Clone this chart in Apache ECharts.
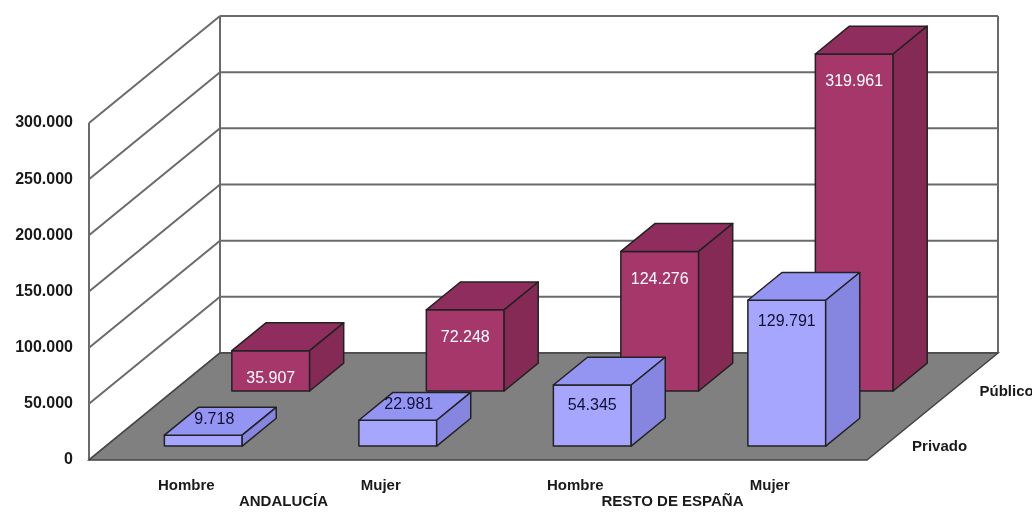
<!DOCTYPE html>
<html>
<head>
<meta charset="utf-8">
<script src="https://cdn.jsdelivr.net/npm/echarts@6/dist/echarts.min.js"></script>
<style>
  html, body { margin: 0; padding: 0; background: #fff; }
  #chart { width: 1032px; height: 512px; }
</style>
</head>
<body>
<div id="chart"></div>
<script>
// data
const categories = ['Hombre', 'Mujer', 'Hombre', 'Mujer'];
const regions = ['ANDALUCÍA', 'RESTO DE ESPAÑA'];
const rowNames = ['Privado', 'Público'];
const privado = [9718, 22981, 54345, 129791];
const publico = [35907, 72248, 124276, 319961];
const yTicks = [0, 50000, 100000, 150000, 200000, 250000, 300000];

const Y_MAX = 300000;
const DEPTH = [131, -107]; // full floor depth, in pixels
const FONT = '"Liberation Sans", Arial, sans-serif';

function fmt(v) {
  return String(v).replace(/\B(?=(\d{3})+(?!\d))/g, '.');
}

function pt(a, b) { return [a, b]; }

// walls, floor and row names
function renderWalls(params, api) {
  const cs = params.coordSys;
  const L = cs.x, R = cs.x + cs.width, B = cs.y + cs.height;
  const Dx = DEPTH[0], Dy = DEPTH[1];
  const yTop = api.coord([0, Y_MAX])[1];
  const lineStyle = { stroke: '#6a6a6a', lineWidth: 2, fill: null };
  const kids = [];
  kids.push({ type: 'polygon', shape: { points: [pt(L + Dx, B + Dy), pt(R + Dx, B + Dy), pt(R + Dx, yTop + Dy), pt(L + Dx, yTop + Dy)] }, style: { fill: '#fff' } });
  kids.push({ type: 'polygon', shape: { points: [pt(L, B), pt(L, yTop), pt(L + Dx, yTop + Dy), pt(L + Dx, B + Dy)] }, style: { fill: '#fff' } });
  yTicks.forEach(function (t) {
    const y = api.coord([0, t])[1];
    kids.push({ type: 'line', shape: { x1: L + Dx, y1: y + Dy, x2: R + Dx, y2: y + Dy }, style: lineStyle });
    kids.push({ type: 'line', shape: { x1: L, y1: y, x2: L + Dx, y2: y + Dy }, style: lineStyle });
  });
  kids.push({ type: 'line', shape: { x1: L, y1: B, x2: L, y2: yTop }, style: lineStyle });
  kids.push({ type: 'line', shape: { x1: L + Dx, y1: B + Dy, x2: L + Dx, y2: yTop + Dy }, style: lineStyle });
  kids.push({ type: 'line', shape: { x1: R + Dx, y1: B + Dy, x2: R + Dx, y2: yTop + Dy }, style: lineStyle });
  // floor
  kids.push({ type: 'polygon', shape: { points: [pt(L, B), pt(R, B), pt(R + Dx, B + Dy), pt(L + Dx, B + Dy)] }, style: { fill: '#808080', stroke: '#444', lineWidth: 1.5 } });
  // depth axis names
  const rowDepth = [0.26, 0.775];
  rowNames.forEach(function (name, k) {
    kids.push({
      type: 'text',
      style: {
        text: name, x: R + Dx * rowDepth[k] + 11, y: B + Dy * rowDepth[k] + 15,
        fill: '#1a1a1a', font: 'bold 15px ' + FONT,
        align: 'left', verticalAlign: 'middle', textAlign: 'left', textVerticalAlign: 'middle'
      }
    });
  });
  return { type: 'group', children: kids };
}

function barRenderer(f0, f1, col, labelColor, labelDy) {
  return function (params, api) {
    const i = api.value(0);
    const v = api.value(1);
    const base = api.coord([i, 0]);
    const top = api.coord([i, Math.min(v, Y_MAX)]);
    const w = api.size([1, 0])[0] * 0.4;
    const ox = DEPTH[0] * f0, oy = DEPTH[1] * f0;
    const dx = DEPTH[0] * (f1 - f0), dy = DEPTH[1] * (f1 - f0);
    const x0 = base[0] - w / 2 + ox, x1 = x0 + w;
    const yb = base[1] + oy, yt = top[1] + oy;
    const edge = { stroke: '#222', lineWidth: 1.5, lineJoin: 'round' };
    const h = yb - yt;
    let lx = (x0 + x1) / 2, ly = yt + labelDy;
    if (h < 30) { lx = (x0 + x1) / 2 + 11; ly = yt - 16; }
    return {
      type: 'group',
      children: [
        { type: 'polygon', shape: { points: [pt(x0, yb), pt(x1, yb), pt(x1, yt), pt(x0, yt)] }, style: Object.assign({ fill: col[0] }, edge) },
        { type: 'polygon', shape: { points: [pt(x0, yt), pt(x1, yt), pt(x1 + dx, yt + dy), pt(x0 + dx, yt + dy)] }, style: Object.assign({ fill: col[1] }, edge) },
        { type: 'polygon', shape: { points: [pt(x1, yt), pt(x1 + dx, yt + dy), pt(x1 + dx, yb + dy), pt(x1, yb)] }, style: Object.assign({ fill: col[2] }, edge) },
        {
          type: 'text',
          style: {
            text: fmt(v), x: lx, y: ly, fill: labelColor, font: '16px ' + FONT,
            align: 'center', verticalAlign: 'middle', textAlign: 'center', textVerticalAlign: 'middle'
          }
        }
      ]
    };
  };
}

const chart = echarts.init(document.getElementById('chart'));
chart.setOption({
  animation: false,
  grid: { left: 89, right: 165, top: 123, bottom: 52 },
  xAxis: [
    {
      type: 'category', data: categories, position: 'bottom',
      axisLine: { show: false }, axisTick: { show: false },
      axisLabel: { margin: 18, fontSize: 15, fontWeight: 'bold', fontFamily: FONT, color: '#1a1a1a' }
    },
    {
      type: 'category', data: regions, position: 'bottom', offset: 16,
      axisLine: { show: false }, axisTick: { show: false },
      axisLabel: { margin: 18, fontSize: 15, fontWeight: 'bold', fontFamily: FONT, color: '#1a1a1a' }
    }
  ],
  yAxis: {
    type: 'value', min: 0, max: Y_MAX, interval: 50000,
    axisLine: { show: false }, axisTick: { show: false }, splitLine: { show: false },
    axisLabel: { margin: 16, fontSize: 16, fontWeight: 'bold', fontFamily: FONT, color: '#1a1a1a', formatter: fmt }
  },
  series: [
    { type: 'custom', name: 'walls', clip: false, z: 1, silent: true, data: [[0, 0]], renderItem: renderWalls },
    {
      type: 'custom', name: rowNames[1], clip: false, z: 2,
      data: publico.map(function (v, i) { return [i, v]; }),
      renderItem: barRenderer(0.645, 0.905, ['#a5376b', '#8f2e5e', '#852a55'], '#ffffff', 28)
    },
    {
      type: 'custom', name: rowNames[0], clip: false, z: 3,
      data: privado.map(function (v, i) { return [i, v]; }),
      renderItem: barRenderer(0.13, 0.39, ['#a6a6ff', '#9494f2', '#8686e0'], '#111133', 21)
    }
  ]
});
</script>
</body>
</html>
